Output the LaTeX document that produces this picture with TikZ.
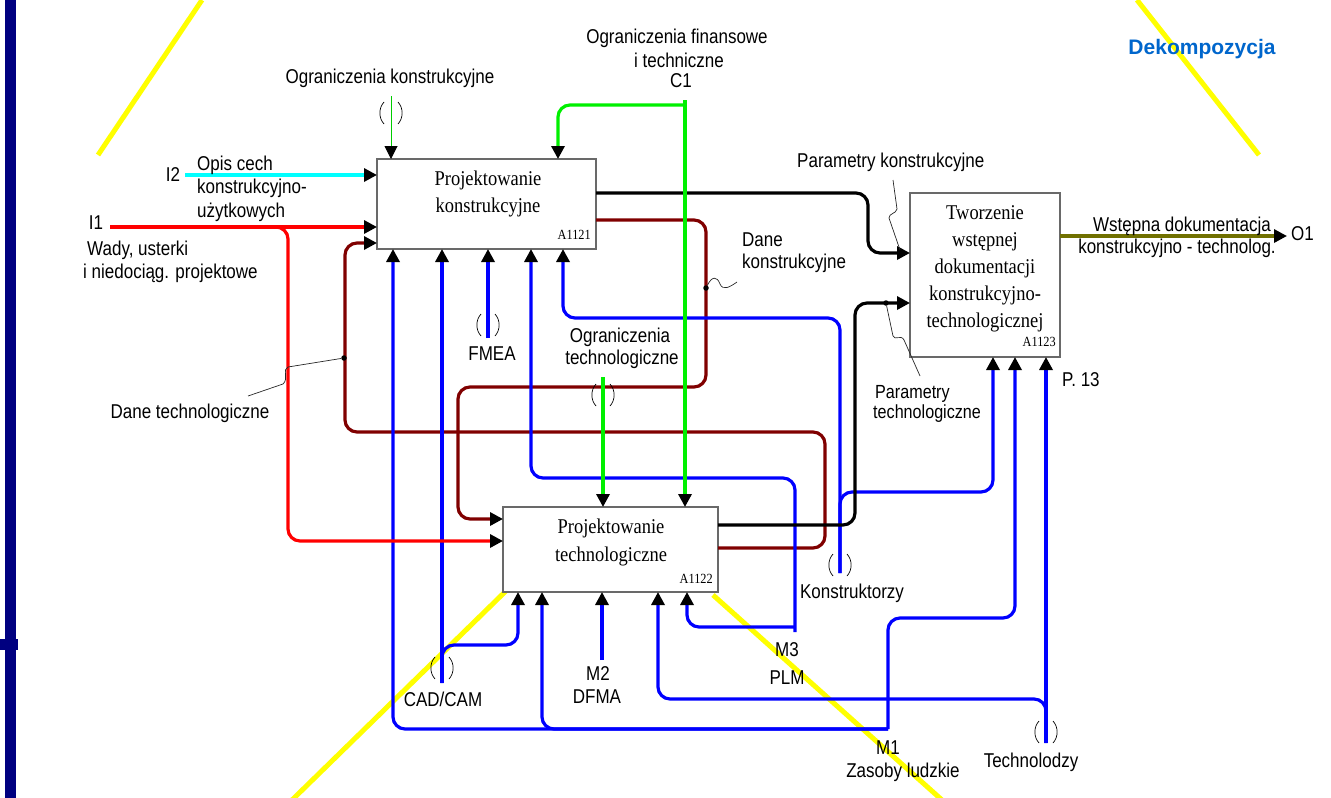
\documentclass[tikz,border=0pt]{standalone}
\usepackage{fontspec}
\setmainfont{Liberation Serif}
\setsansfont{Liberation Sans}
\newfontfamily\labfont[FakeStretch=0.85]{Liberation Sans}
\newfontfamily\boxfont[FakeStretch=0.88]{Liberation Serif}
\usetikzlibrary{arrows.meta}
\definecolor{cblue}{RGB}{0,0,255}
\definecolor{cred}{RGB}{255,0,0}
\definecolor{cgreen}{RGB}{0,240,0}
\definecolor{ccyan}{RGB}{0,255,255}
\definecolor{cmaroon}{RGB}{128,0,0}
\definecolor{colive}{RGB}{112,112,0}
\definecolor{cnavy}{RGB}{0,0,128}
\definecolor{cyellow}{RGB}{255,255,0}
\definecolor{cdek}{RGB}{0,102,204}
\definecolor{cgray}{RGB}{105,105,105}
\begin{document}
\begin{tikzpicture}[x=1pt,y=-1pt,
  box/.style={draw=cgray, fill=white, line width=1.2pt, inner sep=0pt, outer sep=0pt},
  btxt/.style={font=\boxfont\fontsize{21}{24}\selectfont, anchor=base, inner sep=0pt},
  bid/.style={font=\boxfont\fontsize{14}{16}\selectfont, anchor=base east, inner sep=0pt},
  lab/.style={font=\labfont\fontsize{20}{22}\selectfont, inner sep=0pt, anchor=base},
  labs/.style={font=\labfont\fontsize{19}{21}\selectfont, inner sep=0pt, anchor=base west},
  conn/.style={line width=3.2pt, rounded corners=12pt},
  arr/.style={-{Triangle[length=13pt,width=13pt,color=black]}},
  gthin/.style={draw=cgreen!85!black, line width=1pt},
  ybar/.style={draw=cyellow, line width=5pt},
  lead/.style={line width=0.7pt, draw=black!85},
  dot/.style={circle, fill=black, inner sep=0pt, minimum size=5.5pt},
  tunnel/.pic={
    \draw[line width=0.7pt] (-7,-11) .. controls (-12.5,-5) and (-12.5,5) .. (-7,11);
    \draw[line width=0.7pt] (7,-11) .. controls (12.5,-5) and (12.5,5) .. (7,11);
  }]
\useasboundingbox (0,0) rectangle (1331,798);

% background decoration
\draw[ybar] (98,155) -- (202,0);
\draw[ybar] (1137,0) -- (1259,155);
\draw[ybar] (292,800) -- (512,585);
\draw[ybar] (713,595) -- (942,800);
\fill[cnavy] (5,0) rectangle (16,798);
\fill[cnavy] (0,639) rectangle (18,650);

% boxes
\node[box, minimum width=219pt, minimum height=90pt] (A1) at (486.5,204) {};
\node[box, minimum width=215pt, minimum height=85pt] (A2) at (610.5,549.5) {};
\node[box, minimum width=150pt, minimum height=164pt] (A3) at (985,275) {};

\node[btxt] (A1a) at (488,185) {Projektowanie};
\node[btxt] (A1b) at (488,212) {konstrukcyjne};
\node[bid] (A1id) at (591,239) {A1121};

\node[btxt] (A2a) at (611,533) {Projektowanie};
\node[btxt] (A2b) at (611,561) {technologiczne};
\node[bid] (A2id) at (713,583) {A1122};

\node[btxt] (A3a) at (985,219) {Tworzenie};
\node[btxt] (A3b) at (985,246) {wstępnej};
\node[btxt] (A3c) at (985,273) {dokumentacji};
\node[btxt] (A3d) at (985,300) {konstrukcyjno-};
\node[btxt] (A3e) at (985,327) {technologicznej};
\node[bid] (A3id) at (1056,346) {A1123};

% coordinates
\coordinate (cK) at (391,96);
\coordinate (c1) at (685,100);
\coordinate (c1j) at (685,105);
\coordinate (c1x) at (558,105);
\coordinate (ot) at (603,377);
\coordinate (i2) at (185,175);
\coordinate (i1) at (110,227);
\coordinate (i1a) at (288,227);
\coordinate (i1b) at (288,541);
\coordinate (dt1) at (825,548);
\coordinate (dt2) at (825,432);
\coordinate (dt3) at (345,432);
\coordinate (dt4) at (345,243);
\coordinate (dk1) at (706,220);
\coordinate (dk2) at (706,387);
\coordinate (dk3) at (458,387);
\coordinate (dk4) at (458,519);
\coordinate (pk1) at (868,193);
\coordinate (pk2) at (868,253);
\coordinate (pt1) at (855,525);
\coordinate (pt2) at (855,303);
\coordinate (o1) at (1287,236);
\coordinate (m1) at (888,729);
\coordinate (m1a) at (888,618);
\coordinate (m1b) at (1015,618);
\coordinate (m1c) at (393,729);
\coordinate (m1d) at (542,729);
\coordinate (cc) at (442,683);
\coordinate (cc1) at (442,645);
\coordinate (cc2) at (518,645);
\coordinate (fm) at (488,338);
\coordinate (m3) at (795,632);
\coordinate (m3a) at (795,478);
\coordinate (m3b) at (531,478);
\coordinate (m3j) at (795,627);
\coordinate (m3c) at (687,627);
\coordinate (ko) at (840,573);
\coordinate (koa) at (840,318);
\coordinate (kob) at (563,318);
\coordinate (kod) at (840,492);
\coordinate (koc) at (993,492);
\coordinate (m2) at (602,660);
\coordinate (te) at (1046,743);
\coordinate (tea) at (1046,699);
\coordinate (teb) at (658,699);

% maroon
\draw[conn,cmaroon,arr] (dt1 -| A2.east) -- (dt1) -- (dt2) -- (dt3) -- (dt4) -- (dt4 -| A1.west);
\draw[conn,cmaroon,arr] (dk1 -| A1.east) -- (dk1) -- (dk2) -- (dk3) -- (dk4) -- (dk4 -| A2.west);
% blue
\draw[conn,cblue,arr] (m1) -- (m1a) -- (m1b) -- (m1b |- A3.south);
\draw[conn,cblue,arr] (m1) -- (m1c) -- (m1c |- A1.south);
\draw[conn,cblue,arr] (m1) -- (m1d) -- (m1d |- A2.south);
\draw[conn,cblue,arr] (cc) -- (cc |- A1.south);
\draw[conn,cblue,arr] (cc) -- (cc1) -- (cc2) -- (cc2 |- A2.south);
\draw[conn,cblue,arr] (fm) -- (fm |- A1.south);
\draw[conn,cblue,arr] (m3) -- (m3a) -- (m3b) -- (m3b |- A1.south);
\draw[conn,cblue,arr] (m3j) -- (m3c) -- (m3c |- A2.south);
\draw[conn,cblue,arr] (ko) -- (koa) -- (kob) -- (kob |- A1.south);
\draw[conn,cblue,arr] (ko) -- (kod) -- (koc) -- (koc |- A3.south);
\draw[conn,cblue,arr] (m2) -- (m2 |- A2.south);
\draw[conn,cblue,arr] (te) -- (te |- A3.south);
\draw[conn,cblue,arr] (te) -- (tea) -- (teb) -- (teb |- A2.south);
% black
\draw[conn,black,arr] (pk1 -| A1.east) -- (pk1) -- (pk2) -- (pk2 -| A3.west);
\draw[conn,black,arr] (pt1 -| A2.east) -- (pt1) -- (pt2) -- (pt2 -| A3.west);
% red, cyan
\draw[conn,cred,arr] (i1) -- (i1 -| A1.west);
\draw[conn,cred,arr] (i1) -- (i1a) -- (i1b) -- (i1b -| A2.west);
\draw[conn,ccyan,arr] (i2) -- (i2 -| A1.west);
% green
\draw[gthin,arr] (cK) -- (cK |- A1.north);
\draw[conn,cgreen,arr] (c1) -- (c1 |- A2.north);
\draw[conn,cgreen,arr] (c1j) -- (c1x) -- (c1x |- A1.north);
\draw[conn,cgreen,arr] (ot) -- (ot |- A2.north);
% olive
\draw[conn,colive,arr] (o1 -| A3.east) -- (o1);

% tunnels
\pic at (391,113) {tunnel};
\pic at (488,325) {tunnel};
\pic at (603,395) {tunnel};
\pic at (442,668) {tunnel};
\pic at (840,565) {tunnel};
\pic at (1046,732) {tunnel};

% leaders
\node[dot] (d1) at (344,358) {};
\draw[lead] (d1) -- (288,367) .. controls (282,369) and (289,379) .. (283,384) -- (248,396);
\node[dot] (d2) at (706,288) {};
\draw[lead] (d2) .. controls (712,276) and (717,276) .. (720,284) .. controls (723,291) and (730,287) .. (737,282);
\coordinate (l3) at (893,180);
\draw[lead] (l3) -- (897,209) .. controls (896,214) and (889,213) .. (889,218) -- (900,250);
\node[dot] (d4) at (886,303) {};
\draw[lead] (d4) -- (893,336) .. controls (895,341) and (901,334) .. (904,340) -- (920,376);

% labels
\node[lab] (tK) at (390,83) {Ograniczenia konstrukcyjne};
\node[lab] (tC1a) at (677,43) {Ograniczenia finansowe};
\node[lab] (tC1b) at (679,67) {i techniczne};
\node[lab] (tC1c) at (681,87) {C1};
\node[lab] (tI2) at (173,181) {I2};
\node[lab,anchor=base west] (tI2a) at (197,170) {Opis cech};
\node[lab,anchor=base west] (tI2b) at (197,193) {konstrukcyjno-};
\node[lab,anchor=base west] (tI2c) at (197,217) {użytkowych};
\node[lab] (tI1) at (96,229) {I1};
\node[lab,anchor=base west] (tI1a) at (87,255) {Wady, usterki};
\node[lab,anchor=base west] (tI1b) at (83,278) {i niedociąg. projektowe};
\node[lab] (tDT) at (190,418) {Dane technologiczne};
\node[lab] (tFM) at (492,360) {FMEA};
\node[lab] (tOTa) at (620,342) {Ograniczenia};
\node[lab] (tOTb) at (622,364) {technologiczne};
\node[lab,anchor=base west] (tDKa) at (742,246) {Dane};
\node[lab,anchor=base west] (tDKb) at (742,268) {konstrukcyjne};
\node[lab,anchor=base west] (tPK) at (797,167) {Parametry konstrukcyjne};
\node[labs] (tPTa) at (875,398) {Parametry};
\node[labs] (tPTb) at (873,418) {technologiczne};
\node[lab] (tO1a) at (1182,231) {Wstępna dokumentacja};
\node[lab] (tO1b) at (1177,253) {konstrukcyjno - technolog.};
\node[lab,anchor=base west] (tO1) at (1291,240) {O1};
\node[lab,anchor=base west] (tP13) at (1062,386) {P. 13};
\node[lab] (tCC) at (443,706) {CAD/CAM};
\node[lab] (tM2a) at (598,680) {M2};
\node[lab] (tM2b) at (597,703) {DFMA};
\node[lab] (tM3a) at (787,656) {M3};
\node[lab] (tM3b) at (787,684) {PLM};
\node[lab] (tKO) at (852,598) {Konstruktorzy};
\node[lab] (tM1a) at (888,754) {M1};
\node[lab] (tM1b) at (903,777) {Zasoby ludzkie};
\node[lab] (tTE) at (1031,767) {Technolodzy};
\node[font=\sffamily\bfseries\fontsize{21}{24}\selectfont, text=cdek, inner sep=0pt, anchor=base] (tDek) at (1202,54) {Dekompozycja};
\end{tikzpicture}
\end{document}
